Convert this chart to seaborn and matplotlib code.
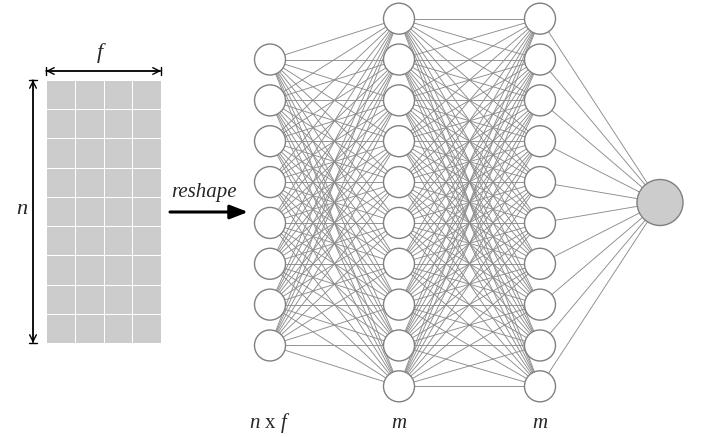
import numpy as np
import matplotlib
matplotlib.use("Agg")
import matplotlib.pyplot as plt
import seaborn as sns
from matplotlib.patches import Circle

# network / data description
layer_sizes = [8, 10, 10, 1]
layer_x = [270, 399, 540, 660]
layer_labels = ["$n$ x $f$", "$m$", "$m$", ""]
node_gap = 40.85
center_y = 202.5
node_r = 15.5
out_r = 23
grid_rows, grid_cols = 9, 4
grid_vals = np.ones((grid_rows, grid_cols))

sns.set_theme(style="white")
plt.rcParams["font.family"] = ["Liberation Serif", "DejaVu Serif"]
plt.rcParams["mathtext.fontset"] = "custom"
plt.rcParams["mathtext.it"] = "Liberation Serif:italic"
plt.rcParams["mathtext.rm"] = "Liberation Serif"

W, H = 701, 437
fig = plt.figure(figsize=(W / 100, H / 100), dpi=100)
ax = fig.add_axes([0, 0, 1, 1])
ax.set_xlim(0, W)
ax.set_ylim(H, 0)
ax.set_aspect("equal")
ax.axis("off")

# feature matrix as a heatmap
gx0, gx1, gy0, gy1 = 46, 161, 80, 343
hax = fig.add_axes([gx0 / W, 1 - gy1 / H, (gx1 - gx0) / W, (gy1 - gy0) / H])
sns.heatmap(grid_vals, ax=hax, cmap=sns.color_palette(["#cccccc"]), cbar=False,
            linewidths=0.4, linecolor="white", xticklabels=False, yticklabels=False)
hax.axis("off")

# dimension arrows
bar = "|-|,widthA=0.25,widthB=0.25"
for style in ["<->,head_length=0.4,head_width=0.2", bar]:
    ax.annotate("", xy=(gx0, 71), xytext=(gx1, 71),
                arrowprops=dict(arrowstyle=style, color="black", lw=1, shrinkA=0, shrinkB=0))
    ax.annotate("", xy=(33, gy0), xytext=(33, gy1),
                arrowprops=dict(arrowstyle=style, color="black", lw=1, shrinkA=0, shrinkB=0))
ax.text(100, 53, "f", fontsize=16, style="italic", ha="center", va="center")
ax.text(22, 210, "n", fontsize=16, style="italic", ha="center", va="center")

# reshape arrow
ax.annotate("", xy=(248, 212), xytext=(170, 212),
            arrowprops=dict(arrowstyle="-|>,head_length=0.9,head_width=0.35",
                            color="black", lw=2.2, shrinkA=0, shrinkB=0))
ax.text(204, 193, "reshape", fontsize=15, style="italic", ha="center", va="center")

# node positions
pos = []
for n, x in zip(layer_sizes, layer_x):
    ys = center_y + (np.arange(n) - (n - 1) / 2) * node_gap
    pos.append([(x, y) for y in ys])

# connections
for a, b in zip(pos[:-1], pos[1:]):
    for (x0, y0) in a:
        for (x1, y1) in b:
            ax.plot([x0, x1], [y0, y1], color="#8c8c8c", lw=0.65, zorder=1)

# nodes
for i, layer in enumerate(pos):
    for (x, y) in layer:
        last = i == len(pos) - 1
        ax.add_patch(Circle((x, y), out_r if last else node_r,
                            facecolor="#cccccc" if last else "white",
                            edgecolor="#808080", lw=1, zorder=3))

for x, lab in zip(layer_x, layer_labels):
    if lab:
        ax.text(x, 423, lab, fontsize=15, ha="center", va="center")

fig.savefig("out.png", dpi=100)
